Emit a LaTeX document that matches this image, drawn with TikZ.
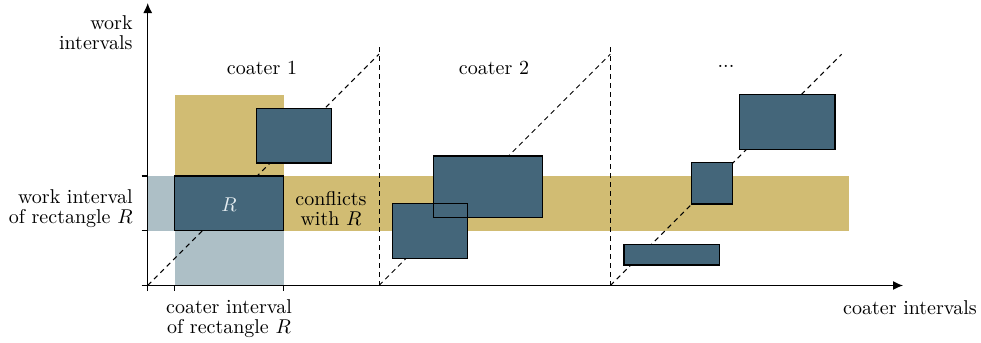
\documentclass[tikz,border=0pt]{standalone}
\usetikzlibrary{arrows.meta}
\definecolor{boxblue}{HTML}{44667A}
\definecolor{goldband}{HTML}{D1BC73}
\definecolor{lightband}{HTML}{ADBFC6}
\definecolor{rlabel}{HTML}{E4ECF0}
\tikzset{
  jobbox/.style={draw=black, line width=0.6pt},
  diag/.style={dash pattern=on 2.5pt off 2pt, line width=0.5pt},
  sep/.style={dash pattern=on 2.5pt off 2pt, line width=0.5pt},
  axis/.style={line width=0.6pt},
  lbl/.style={font=\fontsize{10pt}{10pt}\selectfont, inner sep=0pt},
}
\begin{document}
\begin{tikzpicture}[x=0.5pt,y=-0.5pt]
\useasboundingbox (0,0) rectangle (981,343);
% bands
\fill[goldband] (174.7,94.7) rectangle (283.7,176);
\fill[goldband] (283.7,176) rectangle (849,230.7);
\fill[lightband] (147.7,176) rectangle (174.7,230.7);
\fill[lightband] (174.7,230.7) rectangle (283.7,285.5);
% coordinates
\coordinate (o) at (147.7,285.5);
\coordinate (ytip) at (147.7,3);
\coordinate (xtip) at (903,285.5);
\coordinate (s1) at (379,285.5);
\coordinate (s1t) at (379,45);
\coordinate (s2) at (610.3,285.5);
\coordinate (s2t) at (610.3,45);
\coordinate (d1) at (379,54.2);
\coordinate (d2) at (610.3,54.2);
\coordinate (d3) at (841.6,54.2);
% diagonals and separators
\draw[diag] (o) -- (d1);
\draw[diag] (s1) -- (d2);
\draw[diag] (s2) -- (d3);
\draw[sep] (s1) -- (s1t);
\draw[sep] (s2) -- (s2t);
% boxes
\fill[boxblue] (174.7,176) rectangle (283.7,230.7);
\draw[jobbox] (174.7,176) rectangle (283.7,230.7);
\fill[boxblue] (256.3,108.3) rectangle (331.3,163);
\draw[jobbox] (256.3,108.3) rectangle (331.3,163);
\fill[boxblue] (433.3,156) rectangle (542.3,217.3);
\fill[boxblue] (392.3,203.7) rectangle (467.7,258.3);
\draw[jobbox] (433.3,156) rectangle (542.3,217.3);
\draw[jobbox] (392.3,203.7) rectangle (467.7,258.3);
\fill[boxblue] (624,244.3) rectangle (719.3,265);
\draw[jobbox] (624,244.3) rectangle (719.3,265);
\fill[boxblue] (691.7,162.7) rectangle (732.7,204);
\draw[jobbox] (691.7,162.7) rectangle (732.7,204);
\fill[boxblue] (739.3,94.7) rectangle (835,149.3);
\draw[jobbox] (739.3,94.7) rectangle (835,149.3);
% axes
\draw[axis,-{Latex[length=5pt,width=4.5pt]}] (147.7,291) -- (ytip);
\draw[axis,-{Latex[length=5pt,width=4.5pt]}] (141.7,285.5) -- (xtip);
% ticks
\draw[axis] (141.7,176) -- (147.7,176);
\draw[axis] (141.7,230.7) -- (147.7,230.7);
\draw[axis] (174.7,285.5) -- (174.7,291);
\draw[axis] (283.7,285.5) -- (283.7,291);
% labels
\node[lbl, anchor=east, align=right] (ylab) at (133,33) {work\\intervals};
\node[lbl, anchor=east, align=right] (wlab) at (133,209) {work interval\\of rectangle $R$};
\node[lbl, align=center] (clab) at (229,319) {coater interval\\of rectangle $R$};
\node[lbl, align=center] (conf) at (331,209) {conflicts\\with $R$};
\node[lbl, anchor=base] (c1) at (262,74) {coater 1};
\node[lbl, anchor=base] (c2) at (494,74) {coater 2};
\node[lbl, anchor=base] (c3) at (726,67) {...};
\node[lbl] (xlab) at (910,308) {coater intervals};
\node[lbl, text=rlabel] (rl) at (229,205) {$R$};
\end{tikzpicture}
\end{document}
